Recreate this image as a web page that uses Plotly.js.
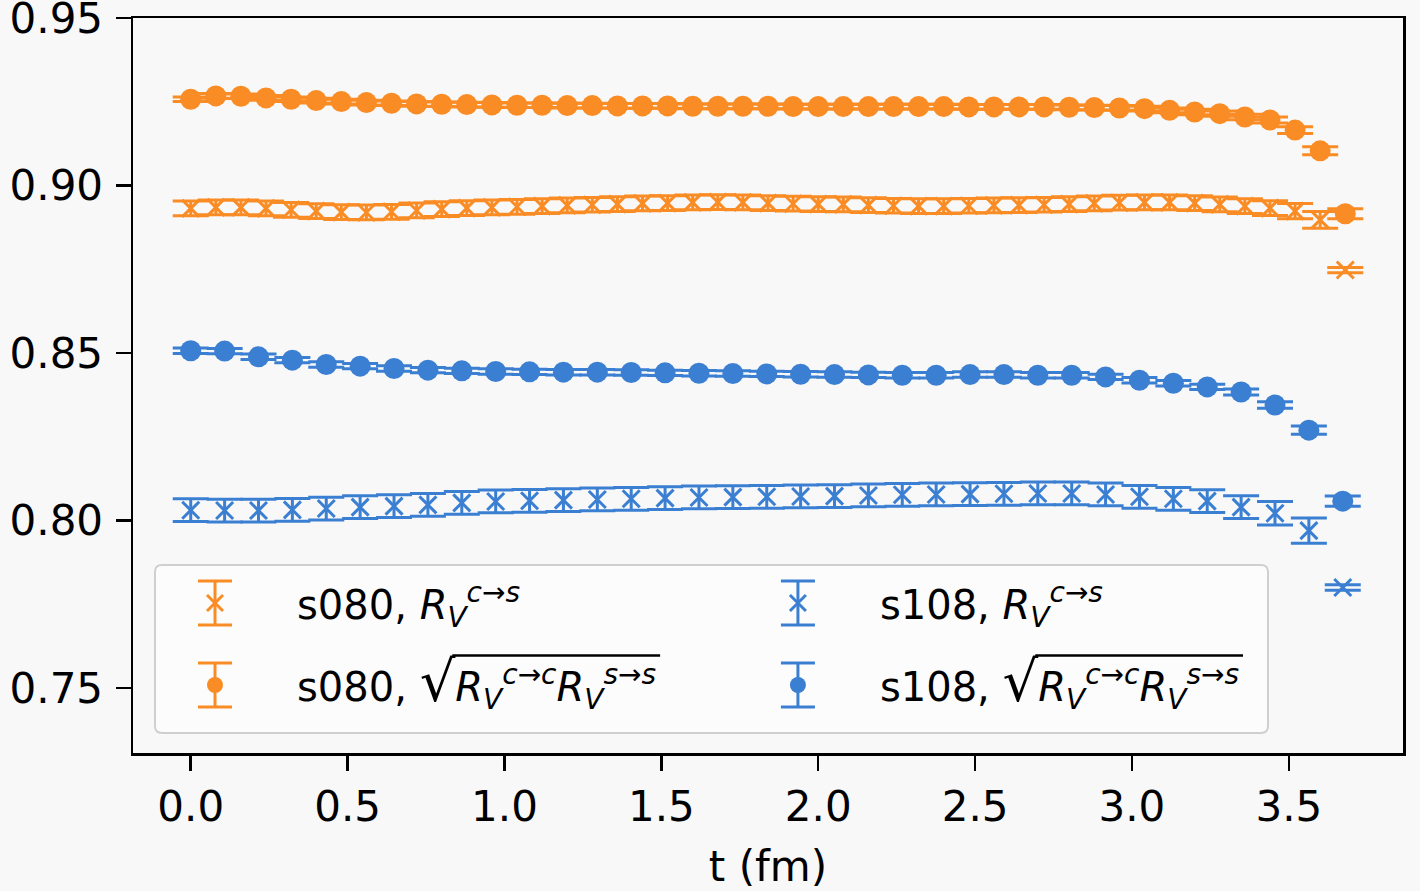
<!DOCTYPE html>
<html>
<head>
<meta charset="utf-8">
<script src="https://cdn.plot.ly/plotly-3.0.1.min.js"></script>
<style>
html,body{margin:0;padding:0;background:#f8f8f8;}
#chart{width:1420px;height:891px;}
</style>
</head>
<body>
<div id="chart"></div>
<script>
// time slices (fm)
const t080 = [0,0.08,0.16,0.24,0.32,0.40,0.48,0.56,0.64,0.72,0.80,0.88,0.96,1.04,1.12,1.20,1.28,1.36,1.44,1.52,1.60,1.68,1.76,1.84,1.92,2.00,2.08,2.16,2.24,2.32,2.40,2.48,2.56,2.64,2.72,2.80,2.88,2.96,3.04,3.12,3.20,3.28,3.36,3.44,3.52,3.60,3.68];
const t108 = [0,0.108,0.216,0.324,0.432,0.540,0.648,0.756,0.864,0.972,1.080,1.188,1.296,1.404,1.512,1.620,1.728,1.836,1.944,2.052,2.160,2.268,2.376,2.484,2.592,2.700,2.808,2.916,3.024,3.132,3.240,3.348,3.456,3.564,3.672];

// s080, R_V^{c->s}
const s080_cs = [0.8932,0.8935,0.8935,0.8932,0.8928,0.8924,0.8921,0.8920,0.8922,0.8926,0.8930,0.8933,0.8935,0.8937,0.8939,0.8941,0.8943,0.8945,0.8947,0.8948,0.8950,0.8951,0.8950,0.8948,0.8946,0.8945,0.8944,0.8942,0.8940,0.8939,0.8939,0.8940,0.8941,0.8942,0.8943,0.8945,0.8947,0.8949,0.8950,0.8950,0.8948,0.8944,0.8939,0.8933,0.8924,0.8898,0.8748];
const s080_cs_err = [0.0022,0.0022,0.0022,0.0022,0.0022,0.0022,0.0022,0.0022,0.0022,0.0022,0.0022,0.0022,0.0022,0.0022,0.0022,0.0022,0.0022,0.0022,0.0022,0.0022,0.0022,0.0022,0.0022,0.0022,0.0022,0.0022,0.0022,0.0022,0.0022,0.0022,0.0022,0.0022,0.0022,0.0022,0.0022,0.0022,0.0022,0.0022,0.0022,0.0022,0.0022,0.0022,0.0022,0.0022,0.0023,0.0025,0.0008];

// s080, sqrt(R_V^{c->c} R_V^{s->s})
const s080_sq = [0.9258,0.9268,0.9267,0.9262,0.9258,0.9254,0.9251,0.9248,0.9246,0.9244,0.9243,0.9242,0.9241,0.9240,0.9240,0.9239,0.9239,0.9238,0.9238,0.9238,0.9237,0.9237,0.9237,0.9237,0.9236,0.9236,0.9236,0.9236,0.9236,0.9236,0.9236,0.9235,0.9235,0.9235,0.9235,0.9234,0.9233,0.9232,0.9230,0.9225,0.9220,0.9215,0.9205,0.9196,0.9166,0.9104,0.8916];
const s080_sq_err = [0.0007,0.0007,0.0007,0.0007,0.0007,0.0007,0.0007,0.0007,0.0007,0.0007,0.0007,0.0007,0.0007,0.0007,0.0007,0.0007,0.0007,0.0007,0.0007,0.0007,0.0007,0.0007,0.0007,0.0007,0.0007,0.0007,0.0007,0.0007,0.0007,0.0007,0.0007,0.0007,0.0007,0.0007,0.0007,0.0007,0.0007,0.0007,0.0007,0.0007,0.0008,0.0008,0.0008,0.0009,0.0010,0.0012,0.0015];

// s108, R_V^{c->s}
const s108_cs = [0.8031,0.8030,0.8030,0.8032,0.8036,0.8040,0.8043,0.8047,0.8053,0.8057,0.8059,0.8061,0.8063,0.8065,0.8067,0.8069,0.8070,0.8071,0.8072,0.8073,0.8075,0.8077,0.8078,0.8079,0.8080,0.8081,0.8081,0.8078,0.8071,0.8065,0.8058,0.8040,0.8022,0.7970,0.7800];
const s108_cs_err = [0.0034,0.0034,0.0034,0.0034,0.0034,0.0034,0.0034,0.0034,0.0034,0.0034,0.0034,0.0034,0.0034,0.0034,0.0034,0.0034,0.0034,0.0034,0.0034,0.0034,0.0034,0.0034,0.0034,0.0034,0.0034,0.0034,0.0034,0.0034,0.0034,0.0034,0.0034,0.0034,0.0035,0.0038,0.0008];

// s108, sqrt(R_V^{c->c} R_V^{s->s})
const s108_sq = [0.8507,0.8506,0.8489,0.8479,0.8466,0.8461,0.8454,0.8449,0.8447,0.8445,0.8444,0.8443,0.8443,0.8442,0.8441,0.8440,0.8439,0.8438,0.8437,0.8436,0.8435,0.8434,0.8434,0.8436,0.8436,0.8434,0.8434,0.8429,0.8419,0.8410,0.8399,0.8384,0.8345,0.8270,0.8058];
const s108_sq_err = [0.0008,0.0008,0.0008,0.0008,0.0008,0.0008,0.0008,0.0008,0.0008,0.0008,0.0008,0.0008,0.0008,0.0008,0.0008,0.0008,0.0008,0.0008,0.0008,0.0008,0.0008,0.0008,0.0008,0.0008,0.0008,0.0008,0.0008,0.0008,0.0008,0.0008,0.0008,0.0009,0.0010,0.0012,0.0015];

const SQRT_FS = 56;
const rootSign = '<span style="font-size:' + SQRT_FS + 'px">√</span>';
const labels = [
  's080, <i>R</i><sub><i>V</i></sub><sup><i>c→s</i></sup>',
  's080, ' + rootSign + '<i>R</i><sub><i>V</i></sub><sup><i>c→c</i></sup><i>R</i><sub><i>V</i></sub><sup><i>s→s</i></sup>',
  's108, <i>R</i><sub><i>V</i></sub><sup><i>c→s</i></sup>',
  's108, ' + rootSign + '<i>R</i><sub><i>V</i></sub><sup><i>c→c</i></sup><i>R</i><sub><i>V</i></sub><sup><i>s→s</i></sup>'
];

const ORANGE = '#fa8c25';
const BLUE = '#3b7fd2';

function trace(x, y, err, color, name, legendId, isX) {
  return {
    type: 'scatter', mode: 'markers', x: x, y: y, name: name, legend: legendId,
    marker: isX
      ? {symbol: 'x-thin', size: 17, color: color, line: {width: 3, color: color}}
      : {symbol: 'circle', size: 21, color: color, line: {width: 0}},
    error_y: {type: 'data', array: err, visible: true, color: color, thickness: 3, width: 18},
    cliponaxis: false
  };
}

const data = [
  trace(t080, s080_cs, s080_cs_err, ORANGE, labels[0], 'legend', true),
  trace(t080, s080_sq, s080_sq_err, ORANGE, labels[1], 'legend2', false),
  trace(t108, s108_cs, s108_cs_err, BLUE, labels[2], 'legend3', true),
  trace(t108, s108_sq, s108_sq_err, BLUE, labels[3], 'legend4', false)
];
const colors = [ORANGE, ORANGE, BLUE, BLUE];

const axisFont = {family: 'DejaVu Sans', size: 42, color: '#000'};
const legFont = {family: 'DejaVu Sans', size: 40, color: '#000'};

function leg(x, y) {
  return {x: x, y: y, xanchor: 'left', yanchor: 'middle', bgcolor: 'rgba(0,0,0,0)',
          borderwidth: 0, font: legFont, itemwidth: 154};
}

// legend frame (rounded rectangle, paper coords)
const bx0 = 0.0173, bx1 = 0.8937, by0 = 0.0272, by1 = 0.2558, rx = 0.0055, ry = 0.0095;
const framePath = 'M ' + (bx0 + rx) + ' ' + by1 + ' L ' + (bx1 - rx) + ' ' + by1 +
  ' Q ' + bx1 + ' ' + by1 + ' ' + bx1 + ' ' + (by1 - ry) +
  ' L ' + bx1 + ' ' + (by0 + ry) + ' Q ' + bx1 + ' ' + by0 + ' ' + (bx1 - rx) + ' ' + by0 +
  ' L ' + (bx0 + rx) + ' ' + by0 + ' Q ' + bx0 + ' ' + by0 + ' ' + bx0 + ' ' + (by0 + ry) +
  ' L ' + bx0 + ' ' + (by1 - ry) + ' Q ' + bx0 + ' ' + by1 + ' ' + (bx0 + rx) + ' ' + by1 + ' Z';

const frame = {type: 'path', xref: 'paper', yref: 'paper', path: framePath, layer: 'above',
               fillcolor: 'rgba(253,253,253,0.85)', line: {color: '#cfcfcf', width: 2}};

const layout = {
  width: 1420, height: 891,
  margin: {l: 133, r: 17, t: 18, b: 138},
  paper_bgcolor: '#f8f8f8', plot_bgcolor: '#f8f8f8',
  font: axisFont,
  showlegend: true,
  xaxis: {
    range: [-0.184, 3.864], tick0: 0, dtick: 0.5, tickformat: '.1f',
    showgrid: false, zeroline: false, showline: true, mirror: true,
    linecolor: '#000', linewidth: 2.5, ticks: 'outside', ticklen: 15, tickwidth: 2.5, tickcolor: '#000',
    tickfont: axisFont,
    title: {text: 't (fm)', font: axisFont, standoff: 22}
  },
  yaxis: {
    range: [0.7306, 0.95006], tick0: 0.75, dtick: 0.05, tickformat: '.2f',
    showgrid: false, zeroline: false, showline: true, mirror: true,
    linecolor: '#000', linewidth: 2.5, ticks: 'outside', ticklen: 15, tickwidth: 2.5, tickcolor: '#000',
    tickfont: axisFont, ticklabeloverflow: 'allow', ticklabelstandoff: 4
  },
  legend: leg(0.0, 0.2041),
  legend2: leg(0.0, 0.0925),
  legend3: leg(0.459, 0.2041),
  legend4: leg(0.459, 0.0925),
  shapes: [frame]
};

function rectOf(node) {
  if (node.nodeType === 3) {
    const rg = document.createRange();
    rg.selectNodeContents(node);
    return rg.getBoundingClientRect();
  }
  return node.getBoundingClientRect();
}
function findRootNode(node) {
  // deepest node whose own text is the radical sign
  for (let i = 0; i < node.childNodes.length; i++) {
    const c = node.childNodes[i];
    if (c.textContent.indexOf('√') >= 0) {
      if (c.nodeType === 3) return c;
      const deeper = findRootNode(c);
      return deeper || c;
    }
  }
  return null;
}

Plotly.newPlot('chart', data, layout, {displayModeBar: false, staticPlot: true}).then(function (gd) {
  const root = gd.getBoundingClientRect();
  const fs = gd._fullLayout._size;
  const px = function (x) { return (x - root.left - fs.l) / fs.w; };
  const py = function (y) { return 1 - (y - root.top - fs.t) / fs.h; };
  const shapes = [frame];
  const line = function (x0, y0, x1, y1, color, w) {
    shapes.push({type: 'line', xref: 'paper', yref: 'paper', layer: 'above',
                 x0: px(x0), y0: py(y0), x1: px(x1), y1: py(y1), line: {color: color, width: w}});
  };
  gd.querySelectorAll('.legendpoints').forEach(function (el, k) {
    const grp = el.closest('.traces') || el.parentNode.parentNode;
    const d = grp.__data__;
    const tIdx = (d && d[0] && d[0].trace) ? d[0].trace.index : k;
    const color = colors[tIdx] || '#000';
    const pt = el.querySelector('path');
    const b = (pt || el).getBoundingClientRect();
    const cx = (b.left + b.right) / 2, cy = (b.top + b.bottom) / 2;
    // error-bar glyph behind the legend marker
    line(cx, cy - 22, cx, cy + 22, color, 3);
    line(cx - 17, cy - 22, cx + 17, cy - 22, color, 3);
    line(cx - 17, cy + 22, cx + 17, cy + 22, color, 3);
    // vinculum of the square-root sign
    const txt = grp.querySelector('text');
    if (!txt || txt.textContent.indexOf('√') < 0) return;
    const tb = txt.getBoundingClientRect();
    let x0 = tb.left + 0.32 * tb.width, yv = cy - 30;
    try {
      const rn = findRootNode(txt);
      if (rn) {
        const r = rectOf(rn);
        if (r && r.width > 0) {
          x0 = r.right - 3;
          yv = r.bottom - 0.236 * SQRT_FS - 0.80 * SQRT_FS;
        }
      }
    } catch (e) {}
    line(x0, yv, tb.right + 4, yv, '#000', 2.5);
  });
  Plotly.relayout(gd, {shapes: shapes});
});
</script>
</body>
</html>
